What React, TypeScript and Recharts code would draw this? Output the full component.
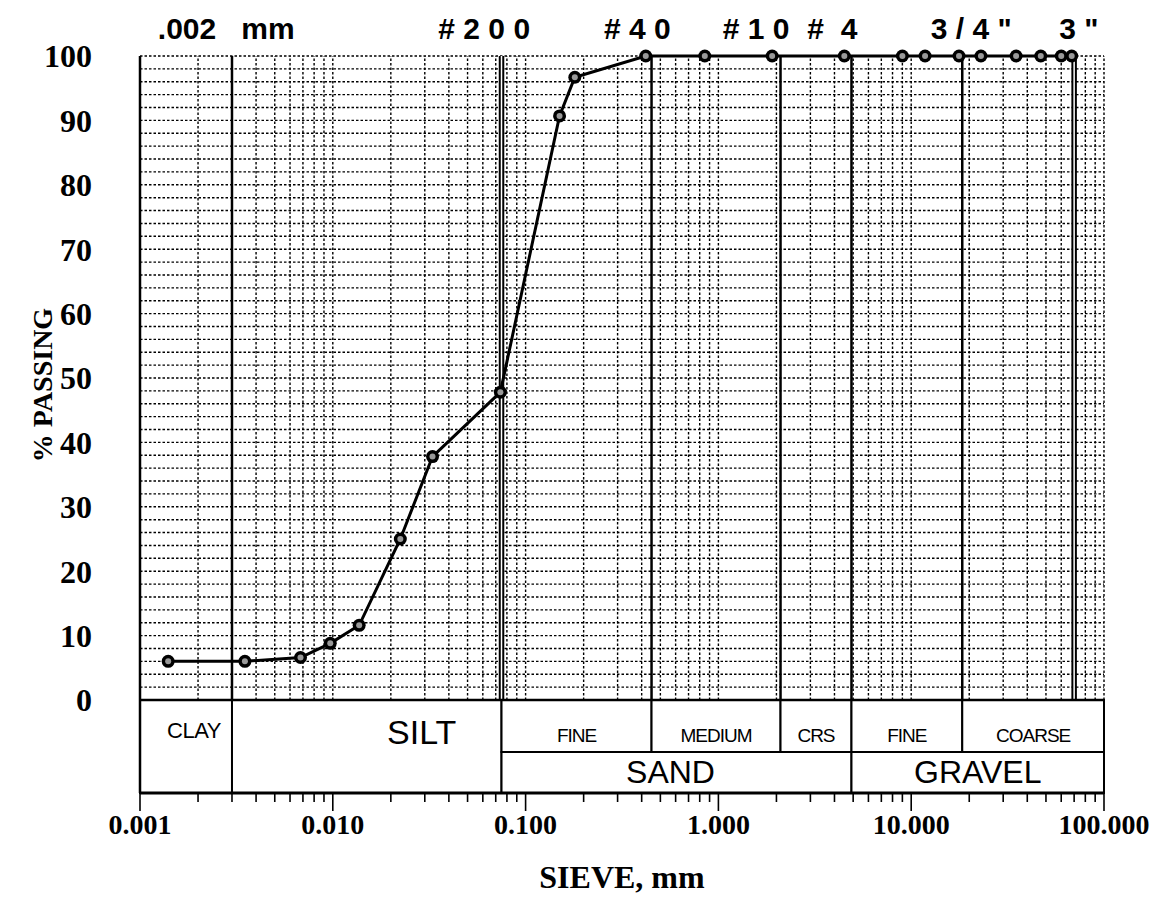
import React from 'react';
import { ComposedChart, Line, XAxis, YAxis, ReferenceLine, ReferenceArea, ReferenceDot } from 'recharts';

// grain size (mm) vs percent passing
const grainSize = [0.0014, 0.0035, 0.0068, 0.0097, 0.0137, 0.0224, 0.0329, 0.074, 0.15, 0.18, 0.42, 0.85, 1.9, 4.5, 9.0, 11.8, 17.7, 23, 35, 47, 60, 68];
const percentPassing = [6, 6, 6.6, 8.8, 11.6, 25, 37.8, 47.8, 90.7, 96.7, 100, 100, 100, 100, 100, 100, 100, 100, 100, 100, 100, 100];

const yTicks = [0, 10, 20, 30, 40, 50, 60, 70, 80, 90, 100];
const decadeTicks = [0.001, 0.01, 0.1, 1, 10, 100];
const sizeTicks = [
  0.001, 0.002, 0.003, 0.004, 0.005, 0.006, 0.007, 0.008, 0.009,
  0.01, 0.02, 0.03, 0.04, 0.05, 0.06, 0.07, 0.08, 0.09,
  0.1, 0.2, 0.3, 0.4, 0.5, 0.6, 0.7, 0.8, 0.9,
  1, 2, 3, 4, 5, 6, 7, 8, 9,
  10, 20, 30, 40, 50, 60, 70, 80, 90,
  100,
];
const gridPercents = Array.from({ length: 50 }, (_, i) => (i + 1) * 2);

// sieve names along the top
const sieveNames = ['.002   mm', '# 2 0 0', '# 4 0', '# 1 0', '#  4', '3 / 4 "', '3 "'];
const sieveNameAt = [0.0028, 0.061, 0.38, 1.57, 3.9, 20.5, 74];

// class boundaries drawn through the grid
const classBreaks = [0.003, 0.075, 0.45, 2.1, 4.9, 18.4, 70];
const doubleBreaks = [0.075, 70];

// classification table under the plot
const soilNames = ['CLAY', 'SILT', 'FINE', 'MEDIUM', 'CRS', 'FINE', 'COARSE', 'SAND', 'GRAVEL'];
const soilFrom = [0.001, 0.003, 0.075, 0.45, 2.1, 4.9, 18.4, 0.075, 4.9];
const soilTo = [0.003, 0.075, 0.45, 2.1, 4.9, 18.4, 100, 4.9, 100];
const soilRow = ['full', 'full', 'upper', 'upper', 'upper', 'upper', 'upper', 'lower', 'lower'];

const TABLE_MID = -8.07;
const TABLE_BOTTOM = -14.44;

const data = grainSize.map((size, i) => ({ size, passing: percentPassing[i] }));

const SERIF = 'Liberation Serif, Times New Roman, serif';
const SANS = 'Liberation Sans, Arial, sans-serif';

const labelStyle: Record<string, { size: number; dx: number; top?: number; spacing: number }> = {
  CLAY: { size: 22, dx: 8, top: 30, spacing: -0.5 },
  SILT: { size: 34, dx: 55, top: 32, spacing: 0 },
  SAND: { size: 32, dx: -6, spacing: 0 },
  GRAVEL: { size: 32, dx: 0, spacing: 0 },
};
const smallLabel = { size: 19, dx: 0, top: 35, spacing: -1 };

const cellLabel = (name: string) => (p: any) => {
  const s = labelStyle[name] || smallLabel;
  const vb = p.viewBox || { x: 0, y: 0, width: 0, height: 0 };
  const cx = vb.x + vb.width / 2 + s.dx;
  const cy = s.top !== undefined ? vb.y + s.top : vb.y + vb.height / 2;
  return (
    <text x={cx} y={cy} textAnchor="middle" dominantBaseline="central" fontFamily={SANS} fontSize={s.size} letterSpacing={s.spacing} fill="#000">
      {name}
    </text>
  );
};

const sieveLabel = (name: string) => (p: any) => {
  const vb = p.viewBox || { x: 0, y: 0, width: 0, height: 0 };
  return (
    <text x={vb.x + vb.width / 2} y={vb.y - 17} textAnchor="middle" fontFamily={SANS} fontWeight="bold" fontSize={30} fill="#000" style={{ whiteSpace: 'pre' }}>
      {name}
    </text>
  );
};

const SizeTick = (p: any) => {
  const v = p.payload.value;
  const major = decadeTicks.includes(v);
  return (
    <g>
      <line x1={p.x} x2={p.x} y1={p.y} y2={p.y + (major ? 18 : 9)} stroke="#000" strokeWidth={1.6} />
      {major && (
        <text x={p.x} y={p.y + 41} textAnchor="middle" fontFamily={SERIF} fontWeight="bold" fontSize={28} fill="#000">
          {v.toFixed(3)}
        </text>
      )}
    </g>
  );
};

const PassingLabel = () => (
  <text x={34} y={377} transform="rotate(-90 34 377)" textAnchor="middle" dominantBaseline="central" fontFamily={SERIF} fontWeight="bold" fontSize={28} fill="#000">
    % PASSING
  </text>
);

const SieveDot = (p: any) => (
  <g key={`dot-${p.index}`}>
    <circle cx={p.cx} cy={p.cy} r={6.5} fill="#000" />
    <circle cx={p.cx} cy={p.cy} r={3} fill="#999" />
  </g>
);

export default function App() {
  return (
    <ComposedChart width={1150} height={904} data={data} margin={{ top: 48, right: 54, bottom: 9, left: 52 }}>
      <XAxis
        dataKey="size"
        type="number"
        scale="log"
        domain={[0.001, 100]}
        ticks={sizeTicks}
        interval={0}
        tickLine={false}
        tickSize={0}
        tickMargin={0}
        axisLine={{ stroke: '#000', strokeWidth: 3 }}
        tick={<SizeTick />}
        height={110}
        label={{ value: 'SIEVE, mm', position: 'insideBottom', offset: 15, fontFamily: SERIF, fontWeight: 'bold', fontSize: 32, fill: '#000' }}
      />
      <YAxis
        type="number"
        domain={[TABLE_BOTTOM, 100]}
        ticks={yTicks}
        interval={0}
        width={80}
        tickLine={false}
        tickSize={0}
        tickMargin={48}
        axisLine={{ stroke: '#000', strokeWidth: 2.5 }}
        tick={{ fontFamily: SERIF, fontWeight: 'bold', fontSize: 32, fill: '#000' }}
        label={<PassingLabel />}
      />

      {soilNames.map((name, i) => (
        <ReferenceArea
          key={`cell-${i}`}
          x1={soilFrom[i]}
          x2={soilTo[i]}
          y1={soilRow[i] === 'upper' ? TABLE_MID : TABLE_BOTTOM}
          y2={soilRow[i] === 'lower' ? TABLE_MID : 0}
          fill="#fff"
          fillOpacity={1}
          stroke="#000"
          strokeWidth={2}
          ifOverflow="visible"
          label={{ content: cellLabel(name) }}
        />
      ))}

      {gridPercents.map((v) => (
        <ReferenceLine key={`h-${v}`} y={v} stroke="#000" strokeWidth={1.4} strokeDasharray="2.5 2" />
      ))}
      {sizeTicks.map((v) => (
        <ReferenceLine
          key={`v-${v}`}
          segment={[{ x: v, y: 0 }, { x: v, y: 100 }]}
          stroke="#000"
          strokeWidth={1.4}
          strokeDasharray="2.5 2"
        />
      ))}
      {classBreaks.map((v) => (
        <ReferenceLine
          key={`b-${v}`}
          segment={[{ x: v, y: 0 }, { x: v, y: 100 }]}
          stroke="#000"
          strokeWidth={doubleBreaks.includes(v) ? 5.5 : 2.5}
        />
      ))}
      {doubleBreaks.map((v) => (
        <ReferenceLine key={`d-${v}`} segment={[{ x: v, y: 0 }, { x: v, y: 100 }]} stroke="#fff" strokeWidth={1.5} />
      ))}
      <ReferenceLine y={0} stroke="#000" strokeWidth={2.5} />

      {sieveNames.map((name, i) => (
        <ReferenceDot
          key={`sieve-${i}`}
          x={sieveNameAt[i]}
          y={100}
          r={0}
          fill="none"
          stroke="none"
          ifOverflow="visible"
          label={{ content: sieveLabel(name) }}
        />
      ))}

      <Line
        dataKey="passing"
        type="linear"
        stroke="#000"
        strokeWidth={3}
        dot={SieveDot}
        activeDot={false}
        isAnimationActive={false}
      />
    </ComposedChart>
  );
}
